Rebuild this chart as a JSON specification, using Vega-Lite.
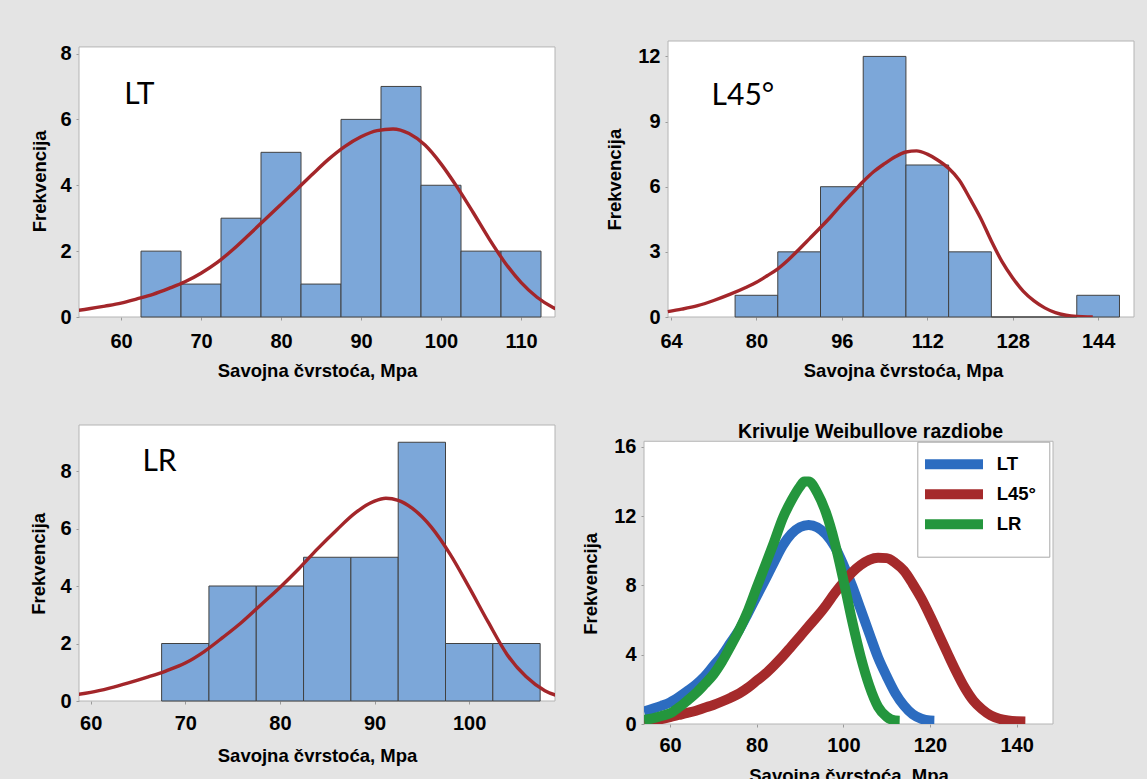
{
  "$schema": "https://vega.github.io/schema/vega-lite/v6.json",
  "autosize": {"type": "none"},
  "padding": {"left": 79, "top": 41, "right": 1068, "bottom": 738},
  "background": "#e4e4e4",
  "columns": 2,
  "align": "none",
  "bounds": "flush",
  "spacing": {"row": 108, "column": 89},
  "config": {
    "view": {"stroke": null, "fill": null},
    "font": "Liberation Sans",
    "axis": {"domain": false, "grid": false, "labelFont": "Liberation Sans", "labelFontSize": 20, "labelFontWeight": "bold", "labelColor": "#000000", "tickColor": "#9a9a9a", "tickSize": 3, "titleFont": "Liberation Sans", "titleFontSize": 18.5, "titleFontWeight": "bold", "titleColor": "#000000", "labelFlush": false, "labelOverlap": false},
    "axisY": {"labelPadding": 5, "titleAngle": 270, "titleBaseline": "middle", "titleAlign": "center"},
    "axisX": {"titleBaseline": "alphabetic", "titleAlign": "center"}
  },
  "concat": [
    {
      "width": 476, "height": 276,
      "layer": [
        {"data": {"values": [{}]}, "mark": {"type": "rect", "fill": "white", "stroke": "#b4b4b4", "strokeWidth": 1},
         "encoding": {
           "x": {"datum": 54.75, "type": "quantitative", "scale": {"domain": [54.75, 114.25], "nice": false, "zero": false}, "axis": {"values": [60, 70, 80, 90, 100, 110], "labelPadding": 11, "title": "Savojna čvrstoća, Mpa", "titleY": 59.5}},
           "x2": {"datum": 114.25},
           "y": {"datum": 0, "type": "quantitative", "scale": {"domain": [0, 8.38], "nice": false, "zero": false}, "axis": {"values": [0, 2, 4, 6, 8], "title": "Frekvencija", "titleX": -40, "titleY": 139.8}},
           "y2": {"datum": 8.2}
         }},
        {"data": {"values": [
          {"lo": 62.5, "hi": 67.5, "count": 2}, {"lo": 67.5, "hi": 72.5, "count": 1}, {"lo": 72.5, "hi": 77.5, "count": 3},
          {"lo": 77.5, "hi": 82.5, "count": 5}, {"lo": 82.5, "hi": 87.5, "count": 1}, {"lo": 87.5, "hi": 92.5, "count": 6},
          {"lo": 92.5, "hi": 97.5, "count": 7}, {"lo": 97.5, "hi": 102.5, "count": 4}, {"lo": 102.5, "hi": 107.5, "count": 2},
          {"lo": 107.5, "hi": 112.5, "count": 2}]},
         "mark": {"type": "rect", "fill": "#7ca7d9", "stroke": "#414141", "strokeWidth": 1},
         "encoding": {"x": {"field": "lo", "type": "quantitative"}, "x2": {"field": "hi"}, "y": {"field": "count", "type": "quantitative"}, "y2": {"datum": 0}}},
        {"data": {"values": [
          {"x": 54, "y": 0.18}, {"x": 56, "y": 0.25}, {"x": 58, "y": 0.33}, {"x": 60, "y": 0.42}, {"x": 62, "y": 0.55},
          {"x": 64, "y": 0.69}, {"x": 66, "y": 0.87}, {"x": 68, "y": 1.07}, {"x": 70, "y": 1.33}, {"x": 72, "y": 1.65},
          {"x": 74, "y": 2.05}, {"x": 76, "y": 2.5}, {"x": 78, "y": 2.96}, {"x": 80, "y": 3.42}, {"x": 82, "y": 3.88},
          {"x": 84, "y": 4.35}, {"x": 86, "y": 4.8}, {"x": 88, "y": 5.18}, {"x": 90, "y": 5.47}, {"x": 92, "y": 5.66},
          {"x": 94, "y": 5.71}, {"x": 96, "y": 5.57}, {"x": 98, "y": 5.22}, {"x": 100, "y": 4.65}, {"x": 102, "y": 3.95},
          {"x": 104, "y": 3.18}, {"x": 106, "y": 2.38}, {"x": 108, "y": 1.65}, {"x": 110, "y": 1.05}, {"x": 112, "y": 0.6},
          {"x": 114, "y": 0.29}, {"x": 116, "y": 0.11}]},
         "mark": {"type": "line", "color": "#a3262a", "strokeWidth": 3.4, "interpolate": "monotone", "clip": true},
         "encoding": {"x": {"field": "x", "type": "quantitative"}, "y": {"field": "y", "type": "quantitative"}}},
        {"data": {"values": [{}]}, "mark": {"type": "text", "text": "LT", "font": "Lato", "fontSize": 30, "align": "left", "baseline": "alphabetic", "color": "#000000"},
         "encoding": {"x": {"datum": 60.4, "type": "quantitative"}, "y": {"datum": 6.48, "type": "quantitative"}}}
      ]
    },
    {
      "width": 490, "height": 276,
      "layer": [
        {"data": {"values": [{}]}, "mark": {"type": "rect", "fill": "white", "stroke": "#b4b4b4", "strokeWidth": 1},
         "encoding": {
           "x": {"datum": 63.44, "type": "quantitative", "scale": {"domain": [58.94, 150.72], "nice": false, "zero": false}, "axis": {"values": [64, 80, 96, 112, 128, 144], "labelPadding": 11, "title": "Savojna čvrstoća, Mpa", "titleX": 259, "titleY": 59.5}},
           "x2": {"datum": 150.72},
           "y": {"datum": 0, "type": "quantitative", "scale": {"domain": [0, 12.71], "nice": false, "zero": false}, "axis": {"values": [0, 3, 6, 9, 12], "offset": -24, "title": "Frekvencija", "titleX": -53.6, "titleY": 138.2}},
           "y2": {"datum": 12.71}
         }},
        {"data": {"values": [
          {"lo": 76, "hi": 84, "count": 1}, {"lo": 84, "hi": 92, "count": 3}, {"lo": 92, "hi": 100, "count": 6},
          {"lo": 100, "hi": 108, "count": 12}, {"lo": 108, "hi": 116, "count": 7}, {"lo": 116, "hi": 124, "count": 3},
          {"lo": 124, "hi": 132, "count": 0}, {"lo": 132, "hi": 140, "count": 0}, {"lo": 140, "hi": 148, "count": 1}]},
         "mark": {"type": "rect", "fill": "#7ca7d9", "stroke": "#414141", "strokeWidth": 1},
         "encoding": {"x": {"field": "lo", "type": "quantitative"}, "x2": {"field": "hi"}, "y": {"field": "count", "type": "quantitative"}, "y2": {"datum": 0}}},
        {"data": {"values": [
          {"x": 63.4, "y": 0.25}, {"x": 66, "y": 0.36}, {"x": 69, "y": 0.52}, {"x": 72, "y": 0.76}, {"x": 75, "y": 1.04},
          {"x": 78, "y": 1.36}, {"x": 80, "y": 1.6}, {"x": 82, "y": 1.9}, {"x": 84, "y": 2.22}, {"x": 86, "y": 2.64},
          {"x": 88, "y": 3.12}, {"x": 90, "y": 3.62}, {"x": 92, "y": 4.12}, {"x": 94, "y": 4.64}, {"x": 96, "y": 5.2},
          {"x": 98, "y": 5.72}, {"x": 100, "y": 6.24}, {"x": 102, "y": 6.7}, {"x": 104, "y": 7.06}, {"x": 106, "y": 7.38},
          {"x": 108, "y": 7.6}, {"x": 110, "y": 7.65}, {"x": 112, "y": 7.5}, {"x": 114, "y": 7.22}, {"x": 116, "y": 6.85},
          {"x": 118, "y": 6.3}, {"x": 120, "y": 5.45}, {"x": 122, "y": 4.55}, {"x": 124, "y": 3.5}, {"x": 126, "y": 2.55},
          {"x": 128, "y": 1.8}, {"x": 130, "y": 1.18}, {"x": 132, "y": 0.74}, {"x": 134, "y": 0.42}, {"x": 136, "y": 0.2},
          {"x": 138, "y": 0.08}, {"x": 140, "y": 0.02}, {"x": 142, "y": 0.0}, {"x": 143, "y": 0.0}]},
         "mark": {"type": "line", "color": "#a3262a", "strokeWidth": 3.4, "interpolate": "monotone", "clip": true},
         "encoding": {"x": {"field": "x", "type": "quantitative"}, "y": {"field": "y", "type": "quantitative"}}},
        {"data": {"values": [{}]}, "mark": {"type": "text", "text": "L45°", "font": "Lato", "fontSize": 30, "align": "left", "baseline": "alphabetic", "color": "#000000"},
         "encoding": {"x": {"datum": 71.6, "type": "quantitative"}, "y": {"datum": 9.75, "type": "quantitative"}}}
      ]
    },
    {
      "width": 476, "height": 276,
      "layer": [
        {"data": {"values": [{}]}, "mark": {"type": "rect", "fill": "white", "stroke": "#b4b4b4", "strokeWidth": 1},
         "encoding": {
           "x": {"datum": 58.77, "type": "quantitative", "scale": {"domain": [58.77, 109.07], "nice": false, "zero": false}, "axis": {"values": [60, 70, 80, 90, 100], "labelPadding": 9.5, "title": "Savojna čvrstoća, Mpa", "titleY": 60.5}},
           "x2": {"datum": 109.07},
           "y": {"datum": 0, "type": "quantitative", "scale": {"domain": [0, 9.6], "nice": false, "zero": false}, "axis": {"values": [0, 2, 4, 6, 8], "title": "Frekvencija", "titleX": -40.2, "titleY": 138.3}},
           "y2": {"datum": 9.6}
         }},
        {"data": {"values": [
          {"lo": 67.5, "hi": 72.5, "count": 2}, {"lo": 72.5, "hi": 77.5, "count": 4}, {"lo": 77.5, "hi": 82.5, "count": 4},
          {"lo": 82.5, "hi": 87.5, "count": 5}, {"lo": 87.5, "hi": 92.5, "count": 5}, {"lo": 92.5, "hi": 97.5, "count": 9},
          {"lo": 97.5, "hi": 102.5, "count": 2}, {"lo": 102.5, "hi": 107.5, "count": 2}]},
         "mark": {"type": "rect", "fill": "#7ca7d9", "stroke": "#414141", "strokeWidth": 1},
         "encoding": {"x": {"field": "lo", "type": "quantitative"}, "x2": {"field": "hi"}, "y": {"field": "count", "type": "quantitative"}, "y2": {"datum": 0}}},
        {"data": {"values": [
          {"x": 58, "y": 0.2}, {"x": 60, "y": 0.3}, {"x": 62, "y": 0.45}, {"x": 64, "y": 0.63}, {"x": 66, "y": 0.83},
          {"x": 68, "y": 1.05}, {"x": 70, "y": 1.32}, {"x": 72, "y": 1.72}, {"x": 74, "y": 2.22}, {"x": 76, "y": 2.75},
          {"x": 78, "y": 3.35}, {"x": 80, "y": 3.95}, {"x": 82, "y": 4.6}, {"x": 84, "y": 5.3}, {"x": 86, "y": 5.95},
          {"x": 88, "y": 6.55}, {"x": 90, "y": 6.95}, {"x": 91.2, "y": 7.05}, {"x": 92.5, "y": 6.98}, {"x": 94, "y": 6.7},
          {"x": 96, "y": 6.05}, {"x": 98, "y": 5.1}, {"x": 100, "y": 3.95}, {"x": 102, "y": 2.75}, {"x": 104, "y": 1.62},
          {"x": 106, "y": 0.85}, {"x": 108, "y": 0.36}, {"x": 110, "y": 0.12}]},
         "mark": {"type": "line", "color": "#a3262a", "strokeWidth": 3.4, "interpolate": "monotone", "clip": true},
         "encoding": {"x": {"field": "x", "type": "quantitative"}, "y": {"field": "y", "type": "quantitative"}}},
        {"data": {"values": [{}]}, "mark": {"type": "text", "text": "LR", "font": "Lato", "fontSize": 30, "align": "left", "baseline": "alphabetic", "color": "#000000"},
         "encoding": {"x": {"datum": 65.47, "type": "quantitative"}, "y": {"datum": 8.01, "type": "quantitative"}}}
      ]
    },
    {
      "width": 409, "height": 299,
      "title": {"text": "Krivulje Weibullove razdiobe", "font": "Liberation Sans", "fontSize": 19.5, "fontWeight": "bold", "color": "#000000", "anchor": "middle", "frame": "group", "dx": 22, "dy": 19.5, "offset": -12.5, "baseline": "alphabetic"},
      "layer": [
        {"data": {"values": [{}]}, "mark": {"type": "rect", "fill": "white", "stroke": "#b4b4b4", "strokeWidth": 1},
         "encoding": {
           "x": {"datum": 54.0, "type": "quantitative", "scale": {"domain": [54.0, 148.38], "nice": false, "zero": false}, "axis": {"values": [60, 80, 100, 120, 140], "labelPadding": 8.5, "title": "Savojna čvrstoća, Mpa", "titleY": 57.2}},
           "x2": {"datum": 148.38},
           "y": {"datum": 0, "type": "quantitative", "scale": {"domain": [0, 17.27], "nice": false, "zero": false}, "axis": {"values": [0, 4, 8, 12, 16], "title": "Frekvencija", "titleX": -53.7, "titleY": 158.3}},
           "y2": {"datum": 16.33}
         }},
        {"data": {"values": [
          {"s": "LT", "x": 54, "y": 0.72}, {"s": "LT", "x": 56, "y": 0.88}, {"s": "LT", "x": 58, "y": 1.05}, {"s": "LT", "x": 60, "y": 1.25},
          {"s": "LT", "x": 62, "y": 1.55}, {"s": "LT", "x": 64, "y": 1.9}, {"s": "LT", "x": 66, "y": 2.28}, {"s": "LT", "x": 68, "y": 2.75},
          {"s": "LT", "x": 70, "y": 3.35}, {"s": "LT", "x": 72, "y": 3.95}, {"s": "LT", "x": 74, "y": 4.7}, {"s": "LT", "x": 76, "y": 5.45},
          {"s": "LT", "x": 78, "y": 6.4}, {"s": "LT", "x": 80, "y": 7.38}, {"s": "LT", "x": 82, "y": 8.35}, {"s": "LT", "x": 84, "y": 9.35},
          {"s": "LT", "x": 86, "y": 10.3}, {"s": "LT", "x": 88, "y": 10.98}, {"s": "LT", "x": 90, "y": 11.37}, {"s": "LT", "x": 92, "y": 11.5},
          {"s": "LT", "x": 94, "y": 11.36}, {"s": "LT", "x": 96, "y": 10.95}, {"s": "LT", "x": 98, "y": 10.25}, {"s": "LT", "x": 100, "y": 9.2},
          {"s": "LT", "x": 102, "y": 8.0}, {"s": "LT", "x": 104, "y": 6.62}, {"s": "LT", "x": 106, "y": 5.22}, {"s": "LT", "x": 108, "y": 3.85},
          {"s": "LT", "x": 110, "y": 2.76}, {"s": "LT", "x": 112, "y": 1.78}, {"s": "LT", "x": 114, "y": 1.06}, {"s": "LT", "x": 116, "y": 0.56},
          {"s": "LT", "x": 118, "y": 0.3}, {"s": "LT", "x": 120, "y": 0.2}, {"s": "LT", "x": 121, "y": 0.19},
          {"s": "L45°", "x": 54, "y": 0.12}, {"s": "L45°", "x": 56, "y": 0.2}, {"s": "L45°", "x": 58, "y": 0.29}, {"s": "L45°", "x": 60, "y": 0.4},
          {"s": "L45°", "x": 62, "y": 0.52}, {"s": "L45°", "x": 64, "y": 0.64}, {"s": "L45°", "x": 66, "y": 0.77}, {"s": "L45°", "x": 68, "y": 0.94},
          {"s": "L45°", "x": 70, "y": 1.1}, {"s": "L45°", "x": 72, "y": 1.3}, {"s": "L45°", "x": 74, "y": 1.52}, {"s": "L45°", "x": 76, "y": 1.77},
          {"s": "L45°", "x": 78, "y": 2.1}, {"s": "L45°", "x": 80, "y": 2.5}, {"s": "L45°", "x": 82, "y": 2.9}, {"s": "L45°", "x": 84, "y": 3.38},
          {"s": "L45°", "x": 86, "y": 3.9}, {"s": "L45°", "x": 88, "y": 4.48}, {"s": "L45°", "x": 90, "y": 5.06}, {"s": "L45°", "x": 92, "y": 5.65},
          {"s": "L45°", "x": 94, "y": 6.22}, {"s": "L45°", "x": 96, "y": 6.85}, {"s": "L45°", "x": 98, "y": 7.55}, {"s": "L45°", "x": 100, "y": 8.18},
          {"s": "L45°", "x": 102, "y": 8.75}, {"s": "L45°", "x": 104, "y": 9.18}, {"s": "L45°", "x": 106, "y": 9.48}, {"s": "L45°", "x": 108, "y": 9.6},
          {"s": "L45°", "x": 110, "y": 9.58}, {"s": "L45°", "x": 112, "y": 9.3}, {"s": "L45°", "x": 114, "y": 8.85}, {"s": "L45°", "x": 116, "y": 8.1},
          {"s": "L45°", "x": 118, "y": 7.25}, {"s": "L45°", "x": 120, "y": 6.25}, {"s": "L45°", "x": 122, "y": 5.18}, {"s": "L45°", "x": 124, "y": 4.1},
          {"s": "L45°", "x": 126, "y": 3.05}, {"s": "L45°", "x": 128, "y": 2.1}, {"s": "L45°", "x": 130, "y": 1.35}, {"s": "L45°", "x": 132, "y": 0.85},
          {"s": "L45°", "x": 134, "y": 0.5}, {"s": "L45°", "x": 136, "y": 0.3}, {"s": "L45°", "x": 138, "y": 0.2}, {"s": "L45°", "x": 140, "y": 0.16},
          {"s": "L45°", "x": 142, "y": 0.15},
          {"s": "LR", "x": 54, "y": 0.25}, {"s": "LR", "x": 56, "y": 0.33}, {"s": "LR", "x": 58, "y": 0.46}, {"s": "LR", "x": 60, "y": 0.62},
          {"s": "LR", "x": 62, "y": 0.95}, {"s": "LR", "x": 64, "y": 1.35}, {"s": "LR", "x": 66, "y": 1.78}, {"s": "LR", "x": 68, "y": 2.3},
          {"s": "LR", "x": 70, "y": 2.85}, {"s": "LR", "x": 72, "y": 3.6}, {"s": "LR", "x": 74, "y": 4.5}, {"s": "LR", "x": 76, "y": 5.45},
          {"s": "LR", "x": 78, "y": 6.55}, {"s": "LR", "x": 80, "y": 7.88}, {"s": "LR", "x": 82, "y": 9.18}, {"s": "LR", "x": 84, "y": 10.5},
          {"s": "LR", "x": 86, "y": 11.88}, {"s": "LR", "x": 88, "y": 12.9}, {"s": "LR", "x": 90, "y": 13.72}, {"s": "LR", "x": 91, "y": 14.0},
          {"s": "LR", "x": 92, "y": 14.0}, {"s": "LR", "x": 94, "y": 13.35}, {"s": "LR", "x": 96, "y": 12.2}, {"s": "LR", "x": 98, "y": 10.5},
          {"s": "LR", "x": 100, "y": 8.33}, {"s": "LR", "x": 102, "y": 5.98}, {"s": "LR", "x": 104, "y": 3.88}, {"s": "LR", "x": 106, "y": 2.2},
          {"s": "LR", "x": 108, "y": 1.0}, {"s": "LR", "x": 110, "y": 0.42}, {"s": "LR", "x": 112, "y": 0.2}, {"s": "LR", "x": 113, "y": 0.19}]},
         "mark": {"type": "line", "strokeWidth": 10, "interpolate": "monotone", "clip": true, "strokeJoin": "round"},
         "encoding": {
           "x": {"field": "x", "type": "quantitative"},
           "y": {"field": "y", "type": "quantitative"},
           "color": {"field": "s", "type": "nominal", "sort": ["LT", "L45°", "LR"],
             "scale": {"domain": ["LT", "L45°", "LR"], "range": ["#2c6cc0", "#a52a2b", "#24963d"]},
             "legend": {"orient": "none", "legendX": 838.3, "legendY": 400.7, "title": null, "symbolType": "M-5.8,0L5.8,0", "symbolStrokeWidth": 10, "symbolSize": 100, "symbolOffset": 14.2,
               "labelFont": "Liberation Sans", "labelFontSize": 18.5, "labelFontWeight": "bold", "labelColor": "#000000",
               "fillColor": "white", "strokeColor": "#a8a8a8", "padding": 12.5, "labelOffset": 32.7, "rowPadding": -15.5}}
         }}
      ]
    }
  ]
}
